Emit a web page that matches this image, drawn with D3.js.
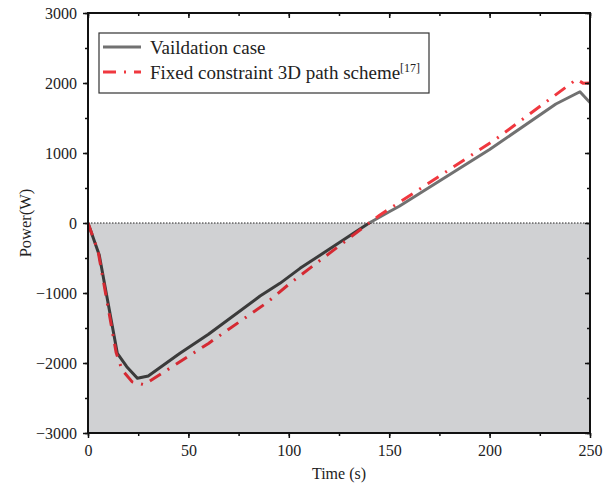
<!doctype html>
<html lang="en">
<head>
  <meta charset="utf-8">
  <title>Power vs time</title>
  <script src="https://cdn.jsdelivr.net/npm/d3@7"></script>
  <style>
    body { margin: 0; background: #fff; }
    svg text { font-family: "Liberation Serif", "Times New Roman", serif; fill: #222; }
  </style>
</head>
<body>
<svg width="614" height="487"></svg>
<script>
  // data
  var valTime  = [0, 5.6, 14.6, 19.3, 24.6, 30, 45.8, 60, 85.7, 95.6, 105.6, 140, 150, 155, 200, 233, 245, 250];
  var valPower = [0, -457, -1861, -2052, -2219, -2186, -1861, -1590, -1043, -862, -648, 0, 160, 240, 1050, 1700, 1875, 1720];

  var refTime  = [0, 5, 14, 17, 22, 28, 60, 89, 100.6, 140, 145.4, 203, 243.3, 246.7, 250];
  var refPower = [0, -400, -1850, -2100, -2270, -2310, -1720, -1140, -862, 0, 114, 1196, 2053, 1995, 2000];

  var xTicks = [0, 50, 100, 150, 200, 250];
  var yTicks = [-3000, -2000, -1000, 0, 1000, 2000, 3000];

  var svg = d3.select("svg"),
    mLeft = 88, mRight = 590, mTop = 13, mBottom = 433;

  var x = d3.scaleLinear().domain([0, 250]).range([mLeft, mRight]);
  var y = d3.scaleLinear().domain([-3000, 3000]).range([mBottom, mTop]);

  var defs = svg.append("defs");
  defs.append("clipPath").attr("id", "above")
    .append("rect").attr("x", mLeft).attr("y", mTop).attr("width", mRight - mLeft).attr("height", y(0) - mTop);
  defs.append("clipPath").attr("id", "below")
    .append("rect").attr("x", mLeft).attr("y", y(0)).attr("width", mRight - mLeft).attr("height", mBottom - y(0));

  // shaded negative region
  svg.append("rect")
    .attr("x", x(0)).attr("y", y(0))
    .attr("width", x(250) - x(0)).attr("height", y(-3000) - y(0))
    .attr("fill", "#d0d1d3");

  svg.append("line")
    .attr("x1", x(0)).attr("x2", x(250)).attr("y1", y(0)).attr("y2", y(0))
    .attr("stroke", "#222").attr("stroke-width", 1).attr("stroke-dasharray", "1.5,1.5");

  var line = d3.line().x(function (d) { return x(d[0]); }).y(function (d) { return y(d[1]); });
  var valData = d3.zip(valTime, valPower);
  var refData = d3.zip(refTime, refPower);

  function drawSeries(data, colAbove, colBelow, dash) {
    [["above", colAbove], ["below", colBelow]].forEach(function (c) {
      svg.append("path")
        .datum(data)
        .attr("clip-path", "url(#" + c[0] + ")")
        .attr("d", line)
        .attr("fill", "none")
        .attr("stroke", c[1])
        .attr("stroke-width", 3)
        .attr("stroke-linejoin", "round")
        .attr("stroke-dasharray", dash);
    });
  }
  drawSeries(valData, "#717171", "#3b3b3b", null);
  drawSeries(refData, "#f0383f", "#d52a33", "13,8,2,8");

  // axes: left/bottom outward, top/right mirrored inward
  var minorX = d3.range(0, 251, 25), minorY = d3.range(-3000, 3001, 500);

  svg.append("g").attr("transform", "translate(0," + mBottom + ")")
    .call(d3.axisBottom(x).tickValues(minorX).tickSize(3).tickFormat(""));
  svg.append("g").attr("transform", "translate(0," + mBottom + ")")
    .call(d3.axisBottom(x).tickValues(xTicks).tickSize(5).tickPadding(7).tickFormat(d3.format("d")))
    .attr("class", "ax");
  svg.append("g").attr("transform", "translate(0," + mTop + ")")
    .call(d3.axisBottom(x).tickValues(minorX).tickSize(3).tickFormat(""));
  svg.append("g").attr("transform", "translate(0," + mTop + ")")
    .call(d3.axisBottom(x).tickValues(xTicks).tickSize(5).tickFormat(""));

  svg.append("g").attr("transform", "translate(" + mLeft + ",0)")
    .call(d3.axisLeft(y).tickValues(minorY).tickSize(3).tickFormat(""));
  svg.append("g").attr("transform", "translate(" + mLeft + ",0)")
    .call(d3.axisLeft(y).tickValues(yTicks).tickSize(5).tickPadding(6)
      .tickFormat(function (d) { return d < 0 ? "\u2212" + Math.abs(d) : d; }))
    .attr("class", "ax");
  svg.append("g").attr("transform", "translate(" + mRight + ",0)")
    .call(d3.axisLeft(y).tickValues(minorY).tickSize(3).tickFormat(""));
  svg.append("g").attr("transform", "translate(" + mRight + ",0)")
    .call(d3.axisLeft(y).tickValues(yTicks).tickSize(5).tickFormat(""));

  svg.selectAll(".domain").remove();
  svg.selectAll(".tick line").attr("stroke", "#111").attr("stroke-width", 1.5);
  svg.selectAll(".ax text").attr("font-size", 16).attr("fill", "#222")
    .attr("font-family", "Liberation Serif, serif");

  svg.append("rect")
    .attr("x", mLeft).attr("y", mTop).attr("width", mRight - mLeft).attr("height", mBottom - mTop)
    .attr("fill", "none").attr("stroke", "#111").attr("stroke-width", 2);

  svg.append("text")
    .attr("x", (mLeft + mRight) / 2).attr("y", 479)
    .attr("text-anchor", "middle").attr("font-size", 16)
    .text("Time (s)");
  svg.append("text")
    .attr("transform", "translate(31," + y(0) + ") rotate(-90)")
    .attr("text-anchor", "middle").attr("font-size", 16.5)
    .text("Power(W)");

  // legend
  var lg = svg.append("g");
  lg.append("rect").attr("x", 99).attr("y", 33).attr("width", 330).attr("height", 60)
    .attr("fill", "#fff").attr("stroke", "#333").attr("stroke-width", 1.2);
  lg.append("line").attr("x1", 103).attr("x2", 141).attr("y1", 47).attr("y2", 47)
    .attr("stroke", "#717171").attr("stroke-width", 3);
  lg.append("line").attr("x1", 103).attr("x2", 141).attr("y1", 72).attr("y2", 72)
    .attr("stroke", "#f0383f").attr("stroke-width", 3).attr("stroke-dasharray", "13,8,2,8");
  lg.append("text").attr("x", 150).attr("y", 54).attr("font-size", 19).text("Vaildation case");
  var t2 = lg.append("text").attr("x", 150).attr("y", 79).attr("font-size", 19);
  t2.append("tspan").text("Fixed constraint 3D path scheme");
  t2.append("tspan").attr("dy", -7).attr("font-size", 12).text("[17]");
</script>
</body>
</html>
